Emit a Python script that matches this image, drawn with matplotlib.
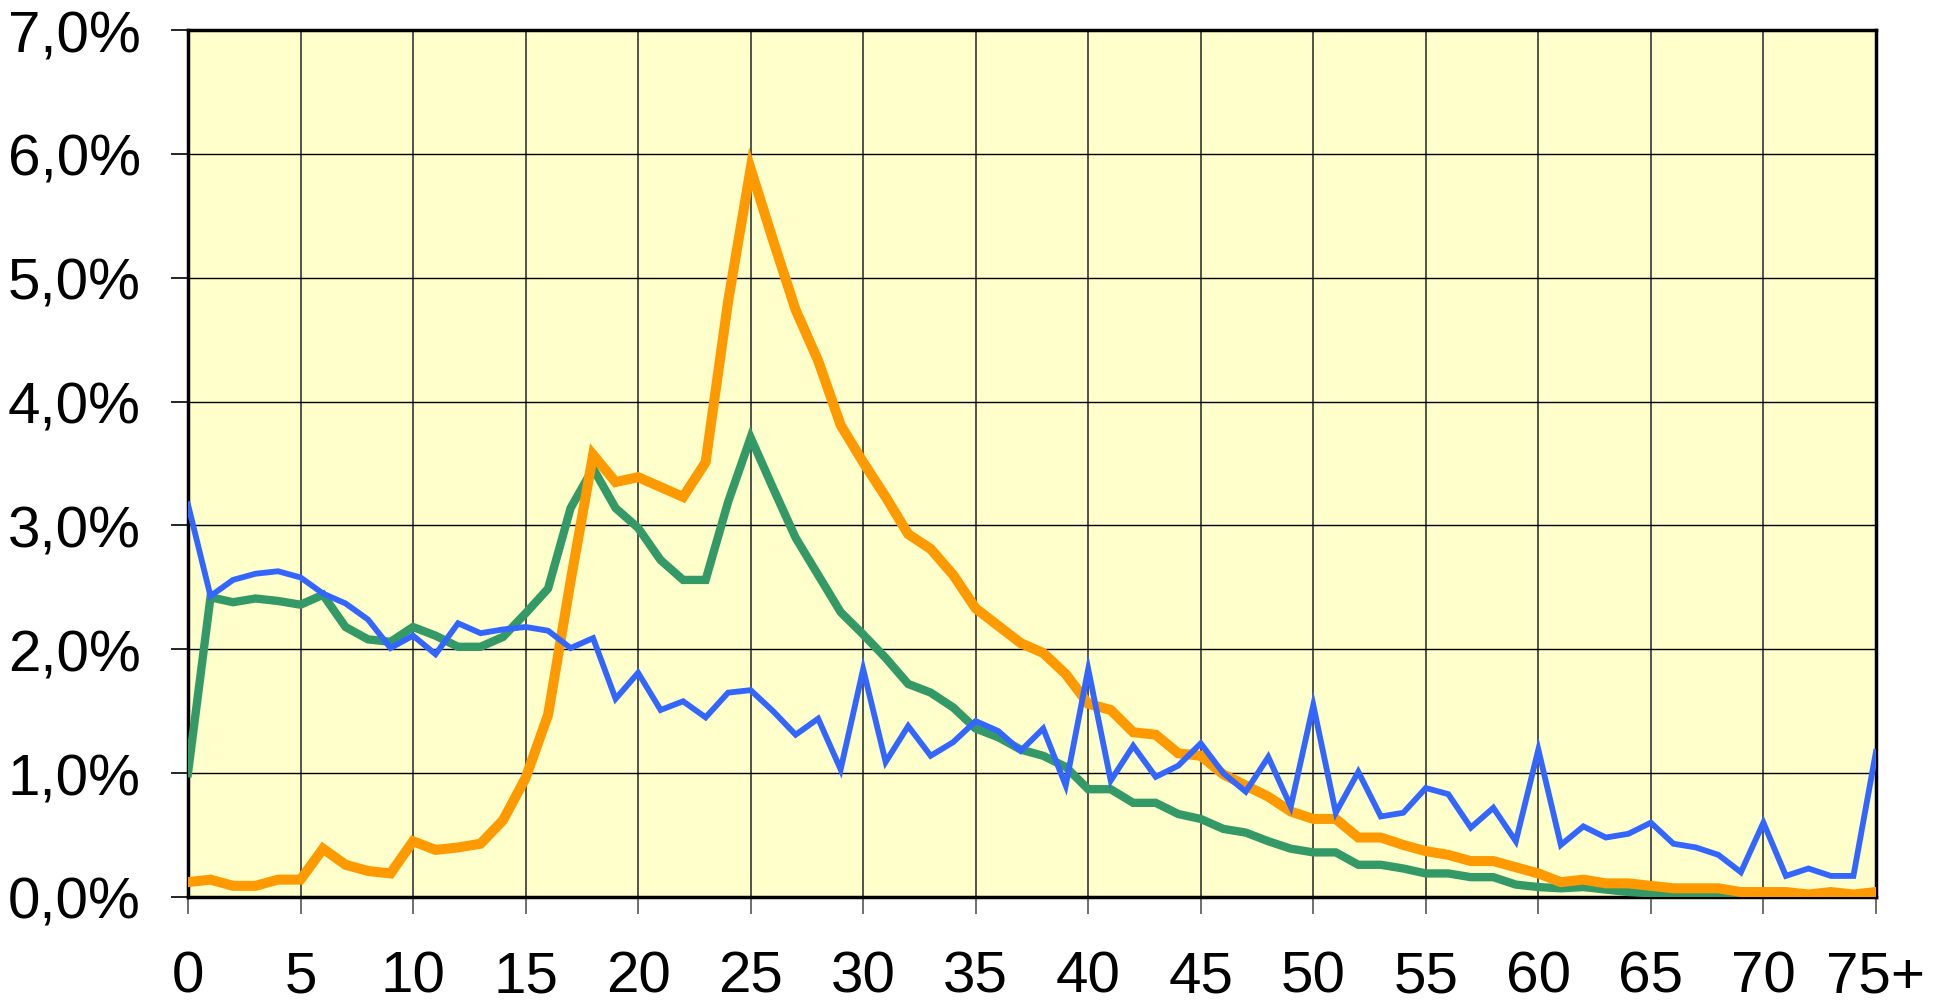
import numpy as np
import matplotlib
matplotlib.use("Agg")
import matplotlib.pyplot as plt

plt.rcParams['font.family'] = ['Liberation Sans', 'DejaVu Sans']

# age 0..75+ (share of total, in %)
ages = list(range(76))

orange = [0.12, 0.14, 0.09, 0.09, 0.14, 0.14, 0.39, 0.26, 0.21, 0.19,
          0.45, 0.38, 0.40, 0.43, 0.62, 0.96, 1.47, 2.55, 3.57, 3.35,
          3.39, 3.31, 3.23, 3.51, 4.81, 5.88, 5.30, 4.74, 4.33, 3.81,
          3.51, 3.23, 2.93, 2.81, 2.60, 2.33, 2.19, 2.05, 1.97, 1.80,
          1.56, 1.51, 1.33, 1.31, 1.16, 1.14, 0.99, 0.90, 0.81, 0.69,
          0.63, 0.63, 0.48, 0.48, 0.42, 0.37, 0.34, 0.29, 0.29, 0.24,
          0.19, 0.12, 0.14, 0.11, 0.11, 0.09, 0.07, 0.07, 0.07, 0.04,
          0.04, 0.04, 0.02, 0.04, 0.02, 0.04]

green = [1.00, 2.42, 2.38, 2.41, 2.39, 2.36, 2.44, 2.18, 2.08, 2.06,
         2.18, 2.11, 2.02, 2.02, 2.10, 2.29, 2.49, 3.14, 3.46, 3.14,
         2.98, 2.72, 2.56, 2.56, 3.19, 3.71, 3.30, 2.90, 2.60, 2.30,
         2.12, 1.93, 1.72, 1.65, 1.53, 1.36, 1.29, 1.19, 1.14, 1.05,
         0.87, 0.87, 0.76, 0.76, 0.67, 0.63, 0.55, 0.52, 0.45, 0.39,
         0.36, 0.36, 0.26, 0.26, 0.23, 0.19, 0.19, 0.16, 0.16, 0.10,
         0.08, 0.07, 0.08, 0.06, 0.04, 0.03, 0.01, 0.0, 0.0, 0.0,
         0.0, 0.0, 0.0, 0.0, 0.0, 0.0]

blue = [3.17, 2.43, 2.56, 2.61, 2.63, 2.58, 2.45, 2.37, 2.24, 2.01,
        2.11, 1.96, 2.21, 2.13, 2.16, 2.18, 2.15, 2.01, 2.09, 1.60,
        1.81, 1.51, 1.58, 1.45, 1.65, 1.67, 1.50, 1.31, 1.44, 1.03,
        1.84, 1.09, 1.38, 1.14, 1.25, 1.42, 1.34, 1.18, 1.36, 0.90,
        1.84, 0.94, 1.22, 0.97, 1.06, 1.24, 1.00, 0.85, 1.13, 0.73,
        1.55, 0.68, 1.01, 0.65, 0.68, 0.88, 0.83, 0.56, 0.72, 0.45,
        1.19, 0.42, 0.57, 0.48, 0.51, 0.60, 0.43, 0.40, 0.34, 0.20,
        0.60, 0.17, 0.23, 0.17, 0.17, 1.17]

xticks = list(range(0, 76, 5))
xlabels = [str(v) for v in range(0, 75, 5)] + ['75+']
yticks = list(range(0, 8))
ylabels = ['%d,0%%' % v for v in yticks]

fig = plt.figure(figsize=(19.48, 10.04), dpi=100)
ax = fig.add_axes([0.0965, 0.1056, 0.8665, 0.8635])
ax.set_facecolor('#FFFFCC')

ax.plot(ages, green, color='#339966', lw=6.0, solid_joinstyle='miter', zorder=3)
ax.plot(ages, orange, color='#FF9900', lw=7.2, solid_joinstyle='miter', zorder=4)
ax.plot(ages, blue, color='#3366FF', lw=4.2, solid_joinstyle='miter', zorder=5)

ax.set_xlim(0, 75)
ax.set_ylim(0, 7)
ax.set_xticks(xticks)
ax.set_xticklabels(xlabels)
ax.set_yticks(yticks)
ax.set_yticklabels(ylabels)

ax.grid(axis='y', color='black', lw=1.0, zorder=1)
ax.grid(axis='x', color='#444444', lw=1.3, zorder=1)
ax.set_axisbelow(True)

for s in ax.spines.values():
    s.set_linewidth(2.5)
    s.set_color('black')

ax.tick_params(axis='both', direction='out', length=12, width=1.2,
               colors='black', labelsize=42)
ax.tick_params(axis='x', pad=26, color='#555555')
ax.tick_params(axis='y', pad=22)

fig.savefig('out.png', dpi=100, facecolor='white')
